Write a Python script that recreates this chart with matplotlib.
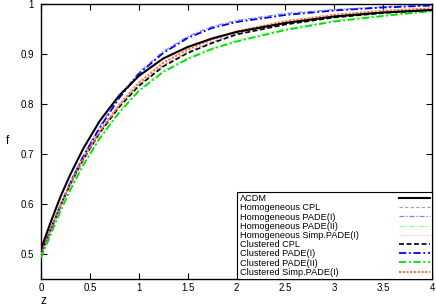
import matplotlib
matplotlib.use("Agg")
import matplotlib.pyplot as plt

plt.rcParams['font.family'] = ['Liberation Sans', 'DejaVu Sans']

# redshift samples
z = [0, 0.1, 0.2, 0.3, 0.43, 0.6, 0.8, 1.0, 1.25, 1.5, 1.75, 2.0, 2.5, 3.0, 3.5, 4.0]

f_lcdm = [0.510, 0.564, 0.615, 0.659, 0.710, 0.766, 0.817, 0.856, 0.891, 0.914, 0.931, 0.944, 0.962, 0.975, 0.983, 0.988]

f_hom_cpl = [0.505, 0.552, 0.599, 0.641, 0.690, 0.744, 0.796, 0.838, 0.877, 0.904, 0.924, 0.941, 0.961, 0.975, 0.984, 0.989]
f_hom_pade1 = [0.503, 0.551, 0.600, 0.645, 0.697, 0.755, 0.815, 0.863, 0.905, 0.935, 0.955, 0.967, 0.981, 0.989, 0.994, 0.998]
f_hom_pade2 = [0.494, 0.541, 0.588, 0.630, 0.679, 0.733, 0.785, 0.828, 0.866, 0.892, 0.912, 0.927, 0.950, 0.967, 0.978, 0.987]
f_hom_simp = [0.502, 0.551, 0.599, 0.642, 0.692, 0.747, 0.800, 0.844, 0.884, 0.911, 0.931, 0.947, 0.967, 0.980, 0.988, 0.992]

f_cl_cpl = [0.503, 0.550, 0.597, 0.639, 0.688, 0.742, 0.794, 0.836, 0.875, 0.902, 0.922, 0.939, 0.959, 0.973, 0.982, 0.988]
f_cl_pade1 = [0.500, 0.548, 0.597, 0.642, 0.694, 0.752, 0.812, 0.860, 0.902, 0.932, 0.952, 0.964, 0.978, 0.987, 0.993, 0.997]
f_cl_pade2 = [0.492, 0.539, 0.586, 0.628, 0.677, 0.731, 0.783, 0.826, 0.864, 0.890, 0.910, 0.925, 0.948, 0.965, 0.976, 0.986]
f_cl_simp = [0.500, 0.549, 0.597, 0.640, 0.690, 0.745, 0.798, 0.842, 0.882, 0.909, 0.929, 0.945, 0.965, 0.978, 0.986, 0.991]

xticks = [0, 0.5, 1, 1.5, 2, 2.5, 3, 3.5, 4]
xticklabels = ["0", "0.5", "1", "1.5", "2", "2.5", "3", "3.5", "4"]
yticks = [0.5, 0.6, 0.7, 0.8, 0.9, 1.0]
yticklabels = ["0.5", "0.6", "0.7", "0.8", "0.9", "1"]

fig = plt.figure(figsize=(4.36, 3.07), dpi=100)
ax = fig.add_axes([0.094, 0.091, 0.897, 0.896])

ax.plot(z, f_lcdm, color="black", lw=1.5, label="ΛCDM", zorder=5)
ax.plot(z, f_hom_cpl, color="#a0a0a0", lw=0.8, ls=(0, (3, 2)), label="Homogeneous CPL")
ax.plot(z, f_hom_pade1, color="#8080ff", lw=0.9, ls=(0, (4, 1.5, 1, 1.5)), label="Homogeneous PADE(I)")
ax.plot(z, f_hom_pade2, color="#90ff90", lw=0.9, ls=(0, (4, 1.5, 1, 1.5)), label="Homogeneous PADE(II)")
ax.plot(z, f_hom_simp, color="#ffc8b0", lw=0.9, ls=(0, (1, 1)), label="Homogeneous Simp.PADE(I)")
ax.plot(z, f_cl_cpl, color="black", lw=1.2, ls=(0, (3, 1.5)), label="Clustered CPL", zorder=4)
ax.plot(z, f_cl_pade1, color="#0000ff", lw=1.3, ls=(0, (4, 1.5, 1, 1.5)), label="Clustered PADE(I)", zorder=4)
ax.plot(z, f_cl_pade2, color="#00dd00", lw=1.3, ls=(0, (4, 1.5, 1, 1.5)), label="Clustered PADE(II)", zorder=4)
ax.plot(z, f_cl_simp, color="#ff7040", lw=1.5, ls=(0, (1, 0.8)), label="Clustered Simp.PADE(I)", zorder=4)

ax.set_xlim(0, 4)
ax.set_ylim(0.45, 1.0)
ax.set_xticks(xticks)
ax.set_xticklabels(xticklabels)
ax.set_yticks(yticks)
ax.set_yticklabels(yticklabels)
ax.tick_params(direction="in", top=True, right=True, length=4, width=0.8, labelsize=7)
ax.tick_params(axis="x", pad=3)
ax.tick_params(axis="y", pad=5)
for s in ax.spines.values():
    s.set_linewidth(1.0)

ax.set_xlabel("z", fontsize=8.5)
ax.xaxis.set_label_coords(0.006, -0.058)
ax.set_ylabel("f", fontsize=8.5, rotation=0)
ax.yaxis.set_label_coords(-0.085, 0.48)

leg = ax.legend(loc="lower right", borderaxespad=0, markerfirst=False, fontsize=6.6,
                labelspacing=0.02, handlelength=3.4, handletextpad=1.0,
                borderpad=0.25, fancybox=False, framealpha=1, edgecolor="black")
leg.get_frame().set_linewidth(0.8)

# gnuplot style key: text left-justified, samples in a column at the right
for col in leg._legend_handle_box.get_children():
    col.align = "left"
    for item in col.get_children():
        item.mode = "expand"
        item.width = 190

fig.savefig("out.png", dpi=100)
